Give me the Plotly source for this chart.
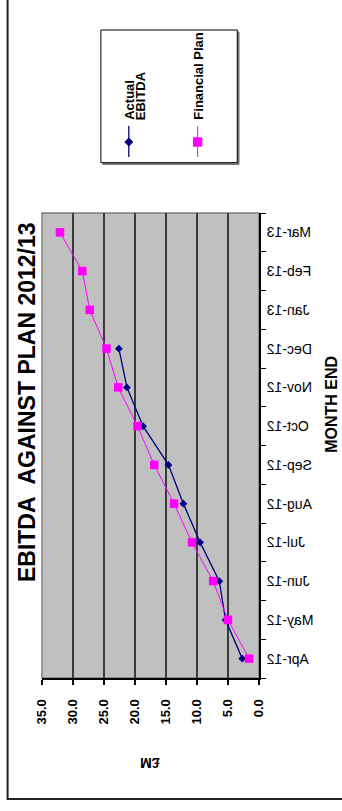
import plotly.graph_objects as go

# ---- data -------------------------------------------------------------
months = ["Apr-12", "May-12", "Jun-12", "Jul-12", "Aug-12", "Sep-12",
          "Oct-12", "Nov-12", "Dec-12", "Jan-13", "Feb-13", "Mar-13"]
actual_ebitda = [2.7, 5.4, 6.4, 9.5, 12.2, 14.6, 18.7, 21.3, 22.6]
financial_plan = [1.6, 5.0, 7.4, 10.8, 13.7, 16.9, 19.6, 22.7, 24.6, 27.3, 28.5, 32.1]
value_ticks = [0, 5, 10, 15, 20, 25, 30, 35]
value_tick_labels = ["0.0", "5.0", "10.0", "15.0", "20.0", "25.0", "30.0", "35.0"]

# ---- page geometry ----------------------------------------------------
W, H = 342, 811
ML, MR, MT, MB = 42, 82.5, 213, 133
PW = W - ML - MR
PH = H - MT - MB
FONT = "Liberation Sans, Arial, sans-serif"


def fx(p):
    return (p - ML) / PW


def fy(p):
    return (H - MB - p) / PH


fig = go.Figure()

fig.add_trace(go.Scatter(
    x=actual_ebitda, y=months[:len(actual_ebitda)], mode="lines+markers",
    name="Actual EBITDA",
    line=dict(color="#000080", width=1.3),
    marker=dict(symbol="diamond", size=6, color="#000080"),
))
fig.add_trace(go.Scatter(
    x=financial_plan, y=months, mode="lines+markers",
    name="Financial Plan",
    line=dict(color="#FF00FF", width=1),
    marker=dict(symbol="square", size=8.5, color="#FF00FF"),
))

shapes = [
    # plot-area frame
    dict(type="rect", xref="x domain", yref="y domain", x0=0, x1=1, y0=0, y1=1,
         line=dict(color="#808080", width=1.5), layer="below"),
    # outer chart border
    dict(type="rect", xref="paper", yref="paper",
         x0=fx(7.5), x1=fx(360), y0=fy(799), y1=fy(-20),
         line=dict(color="#222222", width=2)),
    # legend shadow + box
    dict(type="rect", xref="paper", yref="paper",
         x0=fx(103), x1=fx(239.5), y0=fy(164.5), y1=fy(32),
         line=dict(color="#7a7a7a", width=1), fillcolor="#7a7a7a"),
    dict(type="rect", xref="paper", yref="paper",
         x0=fx(101), x1=fx(237.7), y0=fy(162.7), y1=fy(30),
         line=dict(color="#000000", width=1), fillcolor="#ffffff"),
    # legend samples
    dict(type="line", xref="paper", yref="paper",
         x0=fx(129), x1=fx(129), y0=fy(126), y1=fy(157),
         line=dict(color="#000080", width=1.3)),
    dict(type="path", xref="paper", yref="paper",
         path="M {a},{b} L {c},{d} L {a},{e} L {f},{d} Z".format(
             a=fx(129), b=fy(138), c=fx(133), d=fy(142), e=fy(146), f=fx(125)),
         line=dict(color="#000080", width=1), fillcolor="#000080"),
    dict(type="line", xref="paper", yref="paper",
         x0=fx(198), x1=fx(198), y0=fy(126), y1=fy(157),
         line=dict(color="#FF00FF", width=1)),
    dict(type="rect", xref="paper", yref="paper",
         x0=fx(193.8), x1=fx(202.2), y0=fy(146.2), y1=fy(137.8),
         line=dict(color="#FF00FF", width=1), fillcolor="#FF00FF"),
]


def label(text, x, y, size, angle, xanchor="center", yanchor="middle"):
    return dict(text=text, textangle=angle, x=fx(x), y=fy(y),
                xref="paper", yref="paper", xanchor=xanchor, yanchor=yanchor,
                showarrow=False, borderpad=0,
                font=dict(family=FONT, size=size, color="#000000", weight="bold"))


annotations = [
    label("EBITDA\u00a0 AGAINST PLAN 2012/13", 27, 402, 23, -90),
    label("MONTH END", 331.5, 404, 16, -90),
    label("£M", 150, 763, 14, 180),
    label("Actual", 129, 121, 13, -90, yanchor="bottom"),
    label("EBITDA", 141, 121, 13, -90, yanchor="bottom"),
    label("Financial Plan", 198.5, 121, 13, -90, yanchor="bottom"),
]

fig.update_layout(
    width=W, height=H,
    margin=dict(l=ML, r=MR, t=MT, b=MB, pad=0),
    paper_bgcolor="#ffffff",
    plot_bgcolor="#C0C0C0",
    showlegend=False,
    shapes=shapes,
    annotations=annotations,
    font=dict(family=FONT, color="#000000"),
    xaxis=dict(
        range=[35, 0], tickvals=value_ticks, ticktext=value_tick_labels,
        tickangle=-90, ticks="outside", ticklen=5, tickwidth=1.5,
        tickcolor="#000000", showline=True, linecolor="#000000", linewidth=2,
        showgrid=True, gridcolor="#3a3a3a", gridwidth=1.5, zeroline=False,
        ticklabelstandoff=9,
        tickfont=dict(family=FONT, size=13, color="#000000", weight="bold"),
    ),
    yaxis=dict(
        type="category", categoryorder="array", categoryarray=months,
        range=[-0.5, len(months) - 0.5], side="right",
        ticks="outside", tickson="boundaries", ticklen=5, tickwidth=1.2,
        tickcolor="#000000", showline=True, linecolor="#000000", linewidth=1.5,
        showgrid=False, zeroline=False, ticklabelstandoff=3,
        tickfont=dict(family=FONT, size=14, color="#000000"),
    ),
)

# month labels on the category axis are drawn mirrored left-to-right
mirror_js = """
var gd = document.getElementById('{plot_id}');
function mirrorMonthLabels() {
  gd.querySelectorAll('g.ytick text').forEach(function (t) {
    var tr = t.getAttribute('transform') || '';
    if (tr.indexOf('scale(-1') !== -1) return;
    var b = t.getBBox();
    var cx = b.x + b.width / 2;
    t.setAttribute('transform', tr + ' translate(' + (2 * cx) + ',0) scale(-1,1)');
  });
}
mirrorMonthLabels();
gd.on('plotly_afterplot', mirrorMonthLabels);
"""

fig.write_html("out.html", post_script=mirror_js)
